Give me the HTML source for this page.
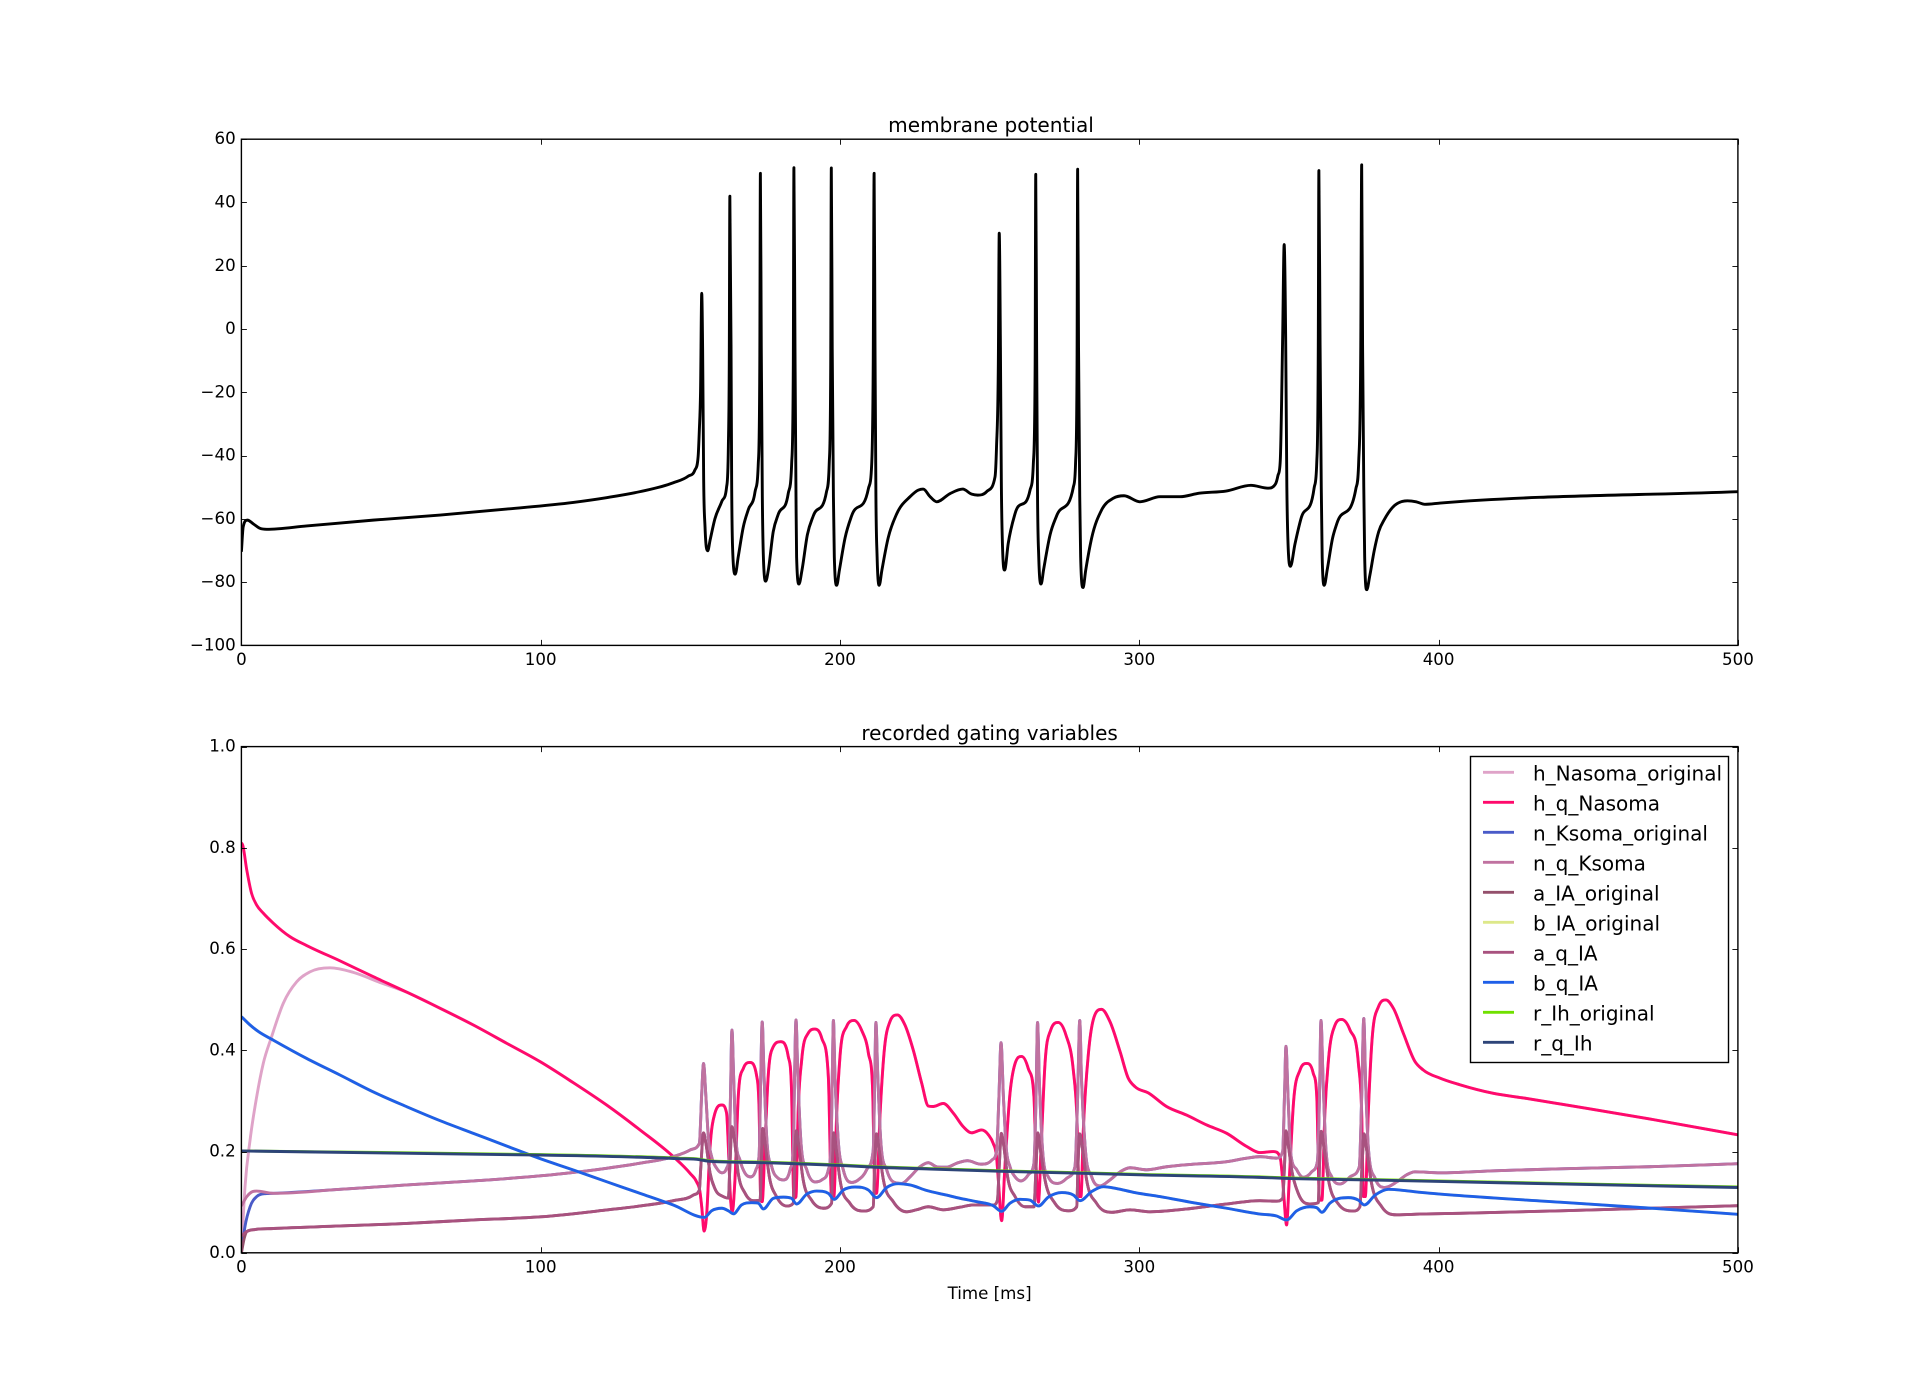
<!DOCTYPE html>
<html lang="en">
<head>
<meta charset="utf-8">
<title>Membrane potential and recorded gating variables</title>
<style>
html,body{margin:0;padding:0;background:#fff;}
svg{display:block;font-family:"DejaVu Sans","Liberation Sans",sans-serif;}
text{fill:#000;}
</style>
</head>
<body>
<svg id="figure" xmlns="http://www.w3.org/2000/svg" width="1931" height="1392" viewBox="0 0 1931 1392">
  <rect x="0" y="0" width="1931" height="1392" fill="#ffffff"/>
  <defs>
    <clipPath id="clip-top"><rect x="241.4" y="139.2" width="1496.5" height="506.2"/></clipPath>
    <clipPath id="clip-bottom"><rect x="241.4" y="746.6" width="1496.5" height="506.2"/></clipPath>
  </defs>
  <text x="991" y="132" font-size="20.1" text-anchor="middle">membrane potential</text>
  <text x="989.6" y="740" font-size="20" text-anchor="middle">recorded gating variables</text>
  <text x="989.6" y="1299" font-size="16.67" text-anchor="middle">Time [ms]</text>
  <g id="top-series" clip-path="url(#clip-top)"></g>
  <g id="bottom-series" clip-path="url(#clip-bottom)"></g>
  <g id="top-axes"></g>
  <g id="bottom-axes"></g>
  <g id="legend" font-size="20">
    <rect x="1470.5" y="756.5" width="258" height="306" fill="#ffffff" stroke="#000000" stroke-width="1.4"/>
    <g><line x1="1483" x2="1514" y1="772.3" y2="772.3" stroke="#dfa3c8" stroke-width="2.8"/><text x="1533" y="780.5">h_Nasoma_original</text></g>
    <g><line x1="1483" x2="1514" y1="802.3" y2="802.3" stroke="#ff0a6c" stroke-width="2.8"/><text x="1533" y="810.5">h_q_Nasoma</text></g>
    <g><line x1="1483" x2="1514" y1="832.3" y2="832.3" stroke="#4a5bc8" stroke-width="2.8"/><text x="1533" y="840.5">n_Ksoma_original</text></g>
    <g><line x1="1483" x2="1514" y1="862.3" y2="862.3" stroke="#c072a0" stroke-width="2.8"/><text x="1533" y="870.5">n_q_Ksoma</text></g>
    <g><line x1="1483" x2="1514" y1="892.3" y2="892.3" stroke="#94506c" stroke-width="2.8"/><text x="1533" y="900.5">a_IA_original</text></g>
    <g><line x1="1483" x2="1514" y1="922.3" y2="922.3" stroke="#dde88a" stroke-width="2.8"/><text x="1533" y="930.5">b_IA_original</text></g>
    <g><line x1="1483" x2="1514" y1="952.3" y2="952.3" stroke="#a8527f" stroke-width="2.8"/><text x="1533" y="960.5">a_q_IA</text></g>
    <g><line x1="1483" x2="1514" y1="982.3" y2="982.3" stroke="#1f5fe8" stroke-width="2.8"/><text x="1533" y="990.5">b_q_IA</text></g>
    <g><line x1="1483" x2="1514" y1="1012.3" y2="1012.3" stroke="#70e000" stroke-width="2.8"/><text x="1533" y="1020.5">r_Ih_original</text></g>
    <g><line x1="1483" x2="1514" y1="1042.3" y2="1042.3" stroke="#2d4478" stroke-width="2.8"/><text x="1533" y="1050.5">r_q_Ih</text></g>
  </g>
</svg>
<script>
// ---- axis tick labels ----
const xTicks = [0, 100, 200, 300, 400, 500];
const vTicks = [-100, -80, -60, -40, -20, 0, 20, 40, 60];
const gTicks = [0, 0.2, 0.4, 0.6, 0.8, 1];

// ---- membrane potential ----
const voltageTime = [
0,.6,2,4,6.2,8.4,21.8,44,66.4,88.6,
110.9,122,133.2,144.3,149.3,151.5,152.6,153,153.4,
153.8,154.1,154.45,154.9,155.8,156.6,
158.2,160.5,162.1,162.7,163,163.2,163.6,163.8,164.1,165,
166,167.7,169.4,171.6,172.7,173.2,173.4,173.7,174.05,174.4,
175.2,176.05,177.7,179.4,182.7,183.85,184.4,184.6,184.96,185.3,
185.5,186.3,187.3,189.1,191.1,195.5,196.4,196.9,197.1,197.4,
197.8,198.1,198.9,199.8,201.7,203.9,209.5,210.6,211.1,211.4,
211.7,212,212.4,213.1,214,216.1,218.9,223.4,226.2,227.8,
230.1,232.3,236.8,241,244,246,249,251.8,252.3,252.9,
253.2,253.6,253.9,254.3,255,256.2,258.5,263.5,264.6,265.2,
265.4,265.7,266,266.4,267.2,268,270.2,272.4,278,278.7,
279.2,279.4,279.7,280.1,280.4,281.2,282.1,284.1,287.4,291.3,
294.9,300.2,306.9,313.6,320,329,337.3,343,345.5,346.3,
347.1,347.9,348.4,348.9,349.3,349.7,350.5,352,354,358.4,
359.3,359.8,360,360.4,360.8,361.1,361.8,362.8,364.6,366,
372.4,373.3,374,374.3,374.6,375,375.3,376,377,378.5,
380,382,384.5,389.6,392.5,395.4,400.5,500];
const voltageValues = [
-70.4,-62.5,-60.4,-61.6,-63,-63.3,-62.25,-60.4,-58.8,-56.9,
-54.8,-53.3,-51.4,-48.6,-46.5,-44.6,-40.3,-32,-20,
11.3,-6,-47.7,-62.5,-70.1,-66.7,
-60,-54.5,-50,-37.2,-10.9,42,-6,-47.7,-68.8,-77.5,
-72,-62.5,-57,-51.5,-42.5,-10.9,49.2,-6,-53,-72,
-79.7,-76.2,-64,-58.5,-52,-42.5,-10.9,51,-6,-53,
-72,-80.6,-76.2,-65,-59,-51.4,-42.5,-10.9,50.9,-6,
-53,-72,-81,-76.2,-66,-59,-50.4,-42.5,-10.9,49.2,
-6,-53,-72,-81,-76.2,-66,-58.5,-53,-50.9,-50.6,
-53,-54.6,-52,-50.6,-52.2,-52.5,-51.4,-46.7,-37.2,-10.9,
30.3,-6,-47.7,-68.8,-76.2,-67.8,-58.3,-50.9,-42.5,-10.9,
48.9,-6,-53,-72,-80.6,-76.2,-65,-59,-49.8,-42.5,
-10.9,50.5,-6,-53,-72,-81.7,-76.2,-66,-57.2,-53.5,
-52.7,-54.6,-53,-53,-51.9,-51.2,-49.4,-50.3,-49,-46.4,
-41.6,-2.4,26.7,-2.4,-50,-68,-75,-68,-60,-50.3,
-42,-5,50.1,-5,-50,-72,-81,-76,-66,-61.5,
-50.3,-42,-5,51.9,-5,-50,-72,-82.4,-78,-70,
-64,-60,-56.5,-54.3,-54.6,-55.4,-55,-51.4];

// ---- h_q_Nasoma ----
const hQTime = [
0,.4,1.8,3.4,5.1,7.3,10.7,16.2,21.8,33,
44,55.2,66.4,77.5,88.6,99.8,110.9,122,133.2,144.3,
149.9,152.1,153.2,153.8,154.6,155.4,156.6,158.2,160.5,162.1,
162.7,163.2,164,
164.9,166,167.7,169.9,172.2,173,173.5,174,174.9,176,
177.7,180.2,182.7,183.8,184.6,185.3,186,187.2,189.4,191.6,
193.9,196.1,197.2,198,198.9,200,202.2,204.7,207.2,209.5,
210.9,211.7,212.2,213.4,214.7,216.7,219.2,221.7,224.5,227.3,
229.5,231.2,234.5,237.9,241.2,244,247.3,249.6,251.2,252.3,
252.9,254,255.1,256.8,258.5,260.7,262.9,264.8,265.7,266.3,
267.2,268.5,270.4,272.9,275.5,277.95,279.1,280,280.5,281.3,
283,284.6,287.4,290.2,293.6,296.3,298.6,303,309.1,315.8,
322.5,329.2,335.9,340.3,344.8,347,347.9,348.4,349.2,350.1,
351.5,353.7,355.9,358.1,359.3,360.2,361,362,363.2,365.4,
367.6,370.4,373.2,374.3,374.9,375.5,376.5,377.6,379.9,382.4,
384.9,388.2,392.1,394.9,400.5,407.1,418.3,429.4,440.6,470,
500];
const hQValues = [
.81,.806,.756,.71,.687,.671,.651,.6246,.607,.5766,
.5456,.515,.483,.45,.414,.3776,.336,.292,.2426,.19,
.157,.14,.121,.091,.043,.0715,.21,.2756,.292,.276,
.21,.131,.081,
.144,.308,.364,.376,.348,.276,.104,.101,.21,.348,
.407,.417,.388,.322,.108,.111,.276,.381,.434,.442,
.424,.348,.108,.111,.276,.388,.447,.459,.44,.394,
.322,.1176,.1176,.2756,.394,.457,.47,.45,.4,.335,
.29,.289,.295,.2756,.249,.237,.2427,.233,.216,.19,
.144,.0635,.17,.315,.374,.388,.364,.308,.144,.1,
.21,.374,.44,.455,.43,.361,.2756,.111,.111,.243,
.394,.46,.481,.4566,.397,.345,.328,.316,.289,.272,
.2525,.236,.21,.198,.2,.19,.144,.104,.055,.144,
.295,.361,.374,.355,.308,.104,.104,.2756,.381,.45,
.461,.44,.374,.2756,.111,.111,.2756,.407,.486,.4995,
.483,.434,.378,.361,.345,.332,.315,.305,.294,.265,
.233];

// ---- h_Nasoma_original: rises from zero, then runs under h_q_Nasoma ----
const hOriginalEarlyTime = [0,1.2,2.9,5.1,7.3,10.1,14,18.5,22.9,29.6,37.4,46.3];
const hOriginalEarlyValues = [0,.13,.223,.308,.374,.427,.493,.5355,.555,.563,.554,.534];

// ---- n_q_Ksoma ----
const nQTime = [
0,1.8,3.4,5.1,10.7,33,55.2,77.5,99.8,122,
133.2,144.3,149.9,153,153.8,154.4,155.2,156,157.1,158.8,
160.5,162.1,163,163.4,163.9,164.5,165.2,166.6,168.3,170.2,
171.9,173,173.5,174,174.6,175.5,177.2,179.4,181.1,183.3,
184.4,184.8,185.3,185.9,186.9,188.9,191.6,193.9,196.1,197,
197.4,197.8,198.3,199.4,201.1,203.9,206.1,208.9,211.1,211.6,
212,212.6,213.6,215.6,217.8,220.6,223.4,226.7,229.5,232.3,
235.6,239,242.6,247,250.7,252.3,253.1,253.8,254.6,255.5,
256.8,258.5,260.5,262.9,264.8,265.5,266,266.6,267.6,269.6,
272.7,275.7,278.5,279.4,280.1,280.7,281.9,284.1,286.9,290.2,
293.6,296.9,302.5,309.1,318,329.2,335.9,340.3,345.9,347.9,
348.5,349,349.7,350.6,352.6,354.8,357.6,359.5,360.2,360.7,
361.4,362.3,364.3,367.1,370.4,373.5,374.3,375,375.6,376.5,
378.8,382.1,386,389.3,392.1,400.5,418.3,440.6,470,500];
const nQValues = [
.0925,.111,.12,.122,.1175,.1254,.134,.142,.152,.167,
.177,.19,.203,.216,.315,.374,.308,.229,.19,.167,
.158,.167,.19,.308,.44,.341,.229,.183,.157,.15,
.164,.196,.341,.456,.354,.229,.17,.147,.144,.164,
.203,.341,.46,.354,.223,.164,.14,.144,.164,.21,
.341,.459,.354,.223,.164,.139,.144,.164,.203,.341,
.455,.354,.223,.164,.14,.137,.15,.17,.178,.17,
.169,.177,.182,.175,.183,.2,.308,.415,.308,.21,
.17,.15,.142,.154,.177,.308,.455,.341,.21,.15,
.137,.147,.17,.308,.459,.341,.21,.15,.132,.144,
.16,.168,.164,.17,.175,.18,.187,.19,.187,.2,
.308,.408,.308,.196,.164,.149,.16,.18,.308,.459,
.341,.21,.15,.136,.15,.17,.308,.463,.341,.21,
.147,.129,.14,.154,.16,.158,.162,.166,.17,.176];

// ---- n_Ksoma_original: rises from zero, then runs under n_q_Ksoma ----
const nOriginalEarlyTime = [0,1.2,2.9,5.1,8.4];
const nOriginalEarlyValues = [0,.052,.091,.111,.117];

// ---- a_q_IA ----
const aQTime = [
0,1.8,4.5,10.7,33,55.2,77.5,99.8,122,133.2,
144.3,151,153,153.5,154.4,155.2,156.6,158.2,161,162.7,
163.2,163.9,164.6,166,168.3,171,173.3,173.7,174.2,174.8,
176.4,178.8,182.2,184.4,184.8,185.4,186.1,187.7,190.5,194.4,
197.2,197.5,197.9,198.6,200,203.3,207.8,211.1,211.6,212.2,
212.9,214.5,217.8,222.3,225.6,229.5,234.5,240.1,244.5,251.2,
252.6,253.2,253.9,254.6,256,258.5,261.8,264.8,265.5,266.1,
266.8,268.5,271.8,276.3,279.1,279.5,280.1,280.9,282.4,285.7,
290.8,296.9,303.6,318,329.2,340.3,345.9,347.9,348.5,349,
349.7,350.9,353.1,357,359.8,360.2,360.8,361.5,363.2,366.5,
371.5,373.7,374.4,375.1,375.8,377.6,381,386,393.8,407.1,
440.6,500];
const aQValues = [
.033,.042,.046,.048,.053,.058,.065,.071,.0846,.0925,
.103,.114,.124,.17,.237,.216,.157,.127,.111,.108,
.17,.249,.229,.157,.1175,.103,.104,.17,.2457,.223,
.15,.111,.0925,.098,.17,.241,.216,.144,.104,.088,
.098,.17,.237,.21,.144,.098,.0826,.091,.17,.235,
.21,.144,.101,.081,.085,.091,.085,.09,.0945,.0945,
.104,.17,.236,.216,.15,.111,.091,.091,.17,.237,
.21,.144,.098,.083,.091,.17,.235,.21,.144,.098,
.08,.085,.081,.088,.0965,.103,.102,.108,.17,.241,
.216,.164,.1175,.0965,.099,.17,.24,.216,.144,.0965,
.0825,.091,.17,.235,.21,.137,.091,.075,.0765,.078,
.083,.093];

// ---- a_IA_original: rises from zero, then runs under a_q_IA ----
const aOriginalEarlyTime = [0,1];
const aOriginalEarlyValues = [0,.03];

// ---- b_q_IA ----
const bQTime = [
0,2.9,5.7,10.7,21.8,33,44,55.2,66.4,77.5,
88.6,99.8,110.9,122,133.2,144.3,154.7,157.1,160.5,162.7,
164.4,167.1,170.5,172.7,174.4,177.7,181.1,183.8,185.5,188.9,
192.2,196.1,198,201.1,205,209.5,212.2,215.6,219.5,223.4,
229,235.6,240.1,245.7,251.2,254,256.8,260.1,263.5,266.3,
269.6,274.1,278,280.2,284.1,288,292.4,298,306.9,318,
329.2,340.3,345.9,349.2,352.6,357,359.3,361,363.7,369.8,
373.2,375.2,378.8,383.2,387.1,393.8,407.1,440.6,470,500];
const bQValues = [
.4666,.45,.437,.42,.384,.351,.318,.2887,.261,.236,
.211,.186,.1636,.1405,.1175,.0944,.07,.083,.088,.083,
.077,.0945,.099,.098,.0866,.1076,.11,.1076,.0964,.116,
.122,.1175,.1056,.124,.13,.124,.109,.129,.1366,.134,
.123,.114,.1076,.101,.093,.082,.098,.1056,.104,.0925,
.11,.119,.114,.103,.121,.1306,.127,.1195,.111,.099,
.088,.0766,.0727,.065,.083,.091,.089,.08,.098,.109,
.104,.0945,.114,.1255,.124,.1195,.113,.1,.0885,.076];

// ---- r_q_Ih and r_Ih_original ----
const rTime = [0,50,100,146,153,156,175,200,212,230,254,281,300,340,349,376,400,440,500];
const rQValues = [.2012,.197,.193,.186,.184,.181,.178,.1725,.169,.1655,.161,.157,.154,.149,.147,.144,.141,.136,.129];
const rOriginalValues = [.2012,.198,.194,.187,.185,.182,.179,.1735,.17,.1665,.162,.158,.155,.15,.148,.145,.142,.137,.13];

const SVG_NS = 'http://www.w3.org/2000/svg';
const plotLeft = 241.4, plotRight = 1737.9;
const xScale = t => plotLeft + (t - 0) / 500 * (plotRight - plotLeft);
const vScale = v => 139.2 + (60 - v) / 160 * 506.2;
const gScale = g => 1252.8 - g * 506.2;

// Cubic path with centred tangents, limited so the curve never overshoots a reading.
function smoothPath(times, values, yScale) {
  const n = Math.min(times.length, values.length);
  const px = [], py = [];
  for (let i = 0; i < n; i++) { px.push(xScale(times[i])); py.push(yScale(values[i])); }
  const dx = [], m = [];
  for (let i = 0; i < n - 1; i++) { dx.push(px[i + 1] - px[i]); m.push((py[i + 1] - py[i]) / dx[i]); }
  const s = [m[0]];
  for (let i = 1; i < n - 1; i++) {
    if (m[i - 1] * m[i] <= 0) { s.push(0); }
    else {
      const centred = (m[i - 1] * dx[i] + m[i] * dx[i - 1]) / (dx[i] + dx[i - 1]);
      const limit = 3 * Math.min(Math.abs(m[i - 1]), Math.abs(m[i]));
      s.push(Math.sign(centred) * Math.min(Math.abs(centred), limit));
    }
  }
  s.push(m[n - 2]);
  let d = 'M' + px[0].toFixed(2) + ' ' + py[0].toFixed(2);
  for (let i = 0; i < n - 1; i++) {
    const h = dx[i] / 3;
    d += 'C' + (px[i] + h).toFixed(2) + ' ' + (py[i] + s[i] * h).toFixed(2) + ' ' +
         (px[i + 1] - h).toFixed(2) + ' ' + (py[i + 1] - s[i + 1] * h).toFixed(2) + ' ' +
         px[i + 1].toFixed(2) + ' ' + py[i + 1].toFixed(2);
  }
  return d;
}

function drawSeries(parentId, name, times, values, yScale, color) {
  const path = document.createElementNS(SVG_NS, 'path');
  
  
  path.setAttribute('d', smoothPath(times, values, yScale));
  path.setAttribute('fill', 'none');
  path.setAttribute('stroke', color);
  path.setAttribute('stroke-width', '2.9');
  path.setAttribute('stroke-linejoin', 'round');
  document.getElementById(parentId).appendChild(path);
}

function drawAxes(parentId, prefix, yScale, yTicks, yFormat) {
  const group = document.getElementById(parentId);
  const top = yScale(yTicks[yTicks.length - 1]), bottom = yScale(yTicks[0]);
  const tick = (x1, y1, x2, y2, name) => {
    const line = document.createElementNS(SVG_NS, 'line');
    
    
    line.setAttribute('x1', x1);
    line.setAttribute('y1', y1);
    line.setAttribute('x2', x2);
    line.setAttribute('y2', y2);
    line.setAttribute('stroke', '#000');
    line.setAttribute('stroke-width', '0.9');
    group.appendChild(line);
  };
  const label = (x, y, content, anchor, name) => {
    const text = document.createElementNS(SVG_NS, 'text');
    
    
    text.setAttribute('x', x);
    text.setAttribute('y', y);
    text.setAttribute('font-size', '16.67');
    text.setAttribute('text-anchor', anchor);
    text.textContent = content;
    group.appendChild(text);
  };
  xTicks.forEach(t => {
    const x = Math.round(xScale(t)) + 0.5;
    tick(x, bottom, x, bottom - 5.5, prefix + '-x-tick-' + t);
    tick(x, top, x, top + 5.5, prefix + '-x-tick-top-' + t);
    label(xScale(t), bottom + 19.6, String(t), 'middle', prefix + '-x-tick-label-' + t);
  });
  yTicks.forEach(v => {
    const y = Math.round(yScale(v)) + 0.5;
    tick(plotLeft, y, plotLeft + 5.5, y, prefix + '-y-tick-' + v);
    tick(plotRight, y, plotRight - 5.5, y, prefix + '-y-tick-right-' + v);
    label(plotLeft - 5.7, yScale(v) + 5, yFormat(v), 'end', prefix + '-y-tick-label-' + v);
  });
  const frame = document.createElementNS(SVG_NS, 'rect');
  
  
  frame.setAttribute('x', plotLeft);
  frame.setAttribute('y', top);
  frame.setAttribute('width', plotRight - plotLeft);
  frame.setAttribute('height', bottom - top);
  frame.setAttribute('fill', 'none');
  frame.setAttribute('stroke', '#000');
  frame.setAttribute('stroke-width', '1.4');
  group.appendChild(frame);
}

drawSeries('top-series', 'membrane-potential-line', voltageTime, voltageValues, vScale, '#000000');

drawSeries('bottom-series', 'h-nasoma-original-line', hOriginalEarlyTime.concat(hQTime.slice(11)), hOriginalEarlyValues.concat(hQValues.slice(11)), gScale, '#dfa3c8');
drawSeries('bottom-series', 'h-q-nasoma-line', hQTime, hQValues, gScale, '#ff0a6c');
drawSeries('bottom-series', 'n-ksoma-original-line', nOriginalEarlyTime.concat(nQTime.slice(4)), nOriginalEarlyValues.concat(nQValues.slice(4)), gScale, '#4a5bc8');
drawSeries('bottom-series', 'n-q-ksoma-line', nQTime, nQValues, gScale, '#c072a0');
drawSeries('bottom-series', 'a-ia-original-line', aOriginalEarlyTime.concat(aQTime.slice(1)), aOriginalEarlyValues.concat(aQValues.slice(1)), gScale, '#94506c');
drawSeries('bottom-series', 'b-ia-original-line', bQTime, bQValues, gScale, '#dde88a');
drawSeries('bottom-series', 'a-q-ia-line', aQTime, aQValues, gScale, '#a8527f');
drawSeries('bottom-series', 'b-q-ia-line', bQTime, bQValues, gScale, '#1f5fe8');
drawSeries('bottom-series', 'r-ih-original-line', rTime, rOriginalValues, gScale, '#70e000');
drawSeries('bottom-series', 'r-q-ih-line', rTime, rQValues, gScale, '#2d4478');

drawAxes('top-axes', 'membrane-potential', vScale, vTicks, v => String(v).replace('-', '\u2212'));
drawAxes('bottom-axes', 'gating-variables', gScale, gTicks, g => g.toFixed(1));
</script>
</body>
</html>
